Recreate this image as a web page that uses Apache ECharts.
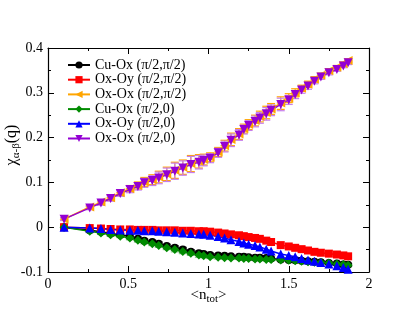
<!DOCTYPE html>
<html>
<head>
<meta charset="utf-8">
<script src="https://cdn.jsdelivr.net/npm/echarts@6/dist/echarts.min.js"></script>
<style>
  html, body { margin: 0; padding: 0; background: #fff; }
  #chart { width: 415px; height: 321px; }
</style>
</head>
<body>
<div id="chart"></div>
<script>
const nTot = [0.1, 0.26, 0.33, 0.39, 0.45, 0.51, 0.56, 0.60, 0.65, 0.69, 0.74, 0.79, 0.84, 0.89, 0.94, 0.97, 1.01, 1.06, 1.10, 1.14, 1.19, 1.22, 1.25, 1.29, 1.32, 1.36, 1.39, 1.45, 1.50, 1.54, 1.58, 1.62, 1.66, 1.70, 1.75, 1.80, 1.84, 1.87]

const cuOxPP = [0, -0.007, -0.010, -0.014, -0.017, -0.021, -0.026, -0.030, -0.033, -0.037, -0.042, -0.046, -0.050, -0.055, -0.058, -0.060, -0.062, -0.063, -0.064, -0.065, -0.066, -0.066, -0.067, -0.068, -0.068, -0.069, -0.070, -0.072, -0.073, -0.074, -0.075, -0.076, -0.077, -0.078, -0.080, -0.081, -0.083, -0.084]
const oxOyPP = [0, -0.002, -0.003, -0.004, -0.005, -0.005, -0.006, -0.006, -0.006, -0.007, -0.007, -0.007, -0.008, -0.008, -0.009, -0.009, -0.010, -0.012, -0.014, -0.016, -0.018, -0.020, -0.022, -0.024, -0.026, -0.030, -0.033, -0.040, -0.043, -0.046, -0.049, -0.052, -0.055, -0.057, -0.059, -0.061, -0.063, -0.065]
const oxOxPP = [0.018, 0.045, 0.056, 0.066, 0.077, 0.086, 0.093, 0.101, 0.106, 0.112, 0.119, 0.127, 0.134, 0.142, 0.147, 0.151, 0.156, 0.168, 0.182, 0.196, 0.208, 0.220, 0.229, 0.238, 0.247, 0.256, 0.264, 0.277, 0.288, 0.300, 0.310, 0.319, 0.330, 0.339, 0.349, 0.357, 0.365, 0.372]
const cuOxP0 = [0, -0.009, -0.013, -0.017, -0.020, -0.024, -0.029, -0.033, -0.037, -0.041, -0.046, -0.050, -0.054, -0.058, -0.062, -0.064, -0.066, -0.067, -0.068, -0.069, -0.069, -0.070, -0.070, -0.071, -0.071, -0.072, -0.072, -0.073, -0.074, -0.075, -0.076, -0.077, -0.078, -0.079, -0.080, -0.082, -0.083, -0.085]
const oxOyP0 = [0, -0.002, -0.003, -0.005, -0.006, -0.007, -0.007, -0.008, -0.008, -0.009, -0.010, -0.011, -0.013, -0.014, -0.015, -0.016, -0.018, -0.021, -0.024, -0.028, -0.032, -0.035, -0.038, -0.041, -0.044, -0.049, -0.053, -0.060, -0.063, -0.066, -0.070, -0.073, -0.076, -0.079, -0.082, -0.086, -0.090, -0.094]
const oxOxP0 = [0.018, 0.043, 0.054, 0.064, 0.075, 0.084, 0.091, 0.099, 0.104, 0.110, 0.117, 0.125, 0.132, 0.140, 0.145, 0.149, 0.154, 0.166, 0.180, 0.194, 0.206, 0.218, 0.227, 0.236, 0.244, 0.253, 0.261, 0.274, 0.284, 0.296, 0.306, 0.315, 0.326, 0.335, 0.345, 0.352, 0.360, 0.367]

// error bars (half widths)
const errOxOx = [0.003, 0.004, 0.005, 0.006, 0.006, 0.007, 0.008, 0.010, 0.011, 0.013, 0.015, 0.018, 0.016, 0.018, 0.015, 0.012, 0.010, 0.010, 0.012, 0.014, 0.012, 0.010, 0.011, 0.012, 0.012, 0.014, 0.012, 0.014, 0.010, 0.009, 0.007, 0.007, 0.006, 0.005, 0.005, 0.004, 0.004, 0.004]
const errCuOx = [0.002, 0.003, 0.003, 0.003, 0.003, 0.004, 0.004, 0.004, 0.004, 0.004, 0.004, 0.005, 0.005, 0.005, 0.005, 0.004, 0.004, 0.004, 0.003, 0.003, 0.003, 0.003, 0.003, 0.003, 0.003, 0.003, 0.003, 0.003, 0.003, 0.003, 0.003, 0.003, 0.003, 0.003, 0.003, 0.003, 0.003, 0.003]

const xTicks = [0, 0.5, 1, 1.5, 2]
const yTicks = [-0.1, 0, 0.1, 0.2, 0.3, 0.4]

const FONT = "'Liberation Serif', 'DejaVu Serif', serif"

function pts(ys) {
  return nTot.map((x, i) => [x, ys[i]])
}

function errSeries(ys, errs, color) {
  return {
    type: 'custom',
    silent: true,
    z: 1,
    data: nTot.map((x, i) => [x, ys[i] - errs[i], ys[i] + errs[i]]),
    renderItem(params, api) {
      const x = api.value(0)
      const lo = api.coord([x, api.value(1)])
      const hi = api.coord([x, api.value(2)])
      const st = { stroke: color, lineWidth: 1.2 }
      return {
        type: 'group',
        children: [
          { type: 'line', shape: { x1: lo[0], y1: lo[1], x2: hi[0], y2: hi[1] }, style: st },
          { type: 'line', shape: { x1: lo[0] - 4, y1: lo[1], x2: lo[0] + 4, y2: lo[1] }, style: st },
          { type: 'line', shape: { x1: hi[0] - 4, y1: hi[1], x2: hi[0] + 4, y2: hi[1] }, style: st },
        ],
      }
    },
  }
}

function lineSeries(name, ys, color, symbol, size, rotate) {
  return {
    name,
    type: 'line',
    data: pts(ys),
    z: 3,
    symbol,
    symbolSize: size,
    symbolRotate: rotate || 0,
    showAllSymbol: true,
    lineStyle: { color, width: 1.5 },
    itemStyle: { color, borderWidth: 0 },
    emphasis: { disabled: true },
  }
}

const labelFmt = v => String(parseFloat(v.toFixed(2)))

function axisCommon(show) {
  return {
    axisLine: { show: true, onZero: false, lineStyle: { color: '#000', width: 1.2 } },
    axisTick: { show: true, inside: true, length: 6, lineStyle: { color: '#000', width: 1 } },
    minorTick: { show: true, splitNumber: 2, length: 3, lineStyle: { color: '#000', width: 1 } },
    splitLine: { show: false },
    axisLabel: {
      show,
      color: '#000',
      fontFamily: FONT,
      fontSize: 14,
      margin: 5,
      formatter: labelFmt,
    },
  }
}

const chart = echarts.init(document.getElementById('chart'), null, { renderer: 'canvas' })

chart.setOption({
  backgroundColor: '#fff',
  animation: false,
  grid: { left: 48, right: 46, top: 48, bottom: 49, containLabel: false, outerBoundsMode: 'none' },
  legend: {
    orient: 'vertical',
    left: 62,
    top: 53,
    itemWidth: 22,
    itemHeight: 9,
    itemGap: 0.7,
    selectedMode: false,
    textStyle: { fontFamily: FONT, fontSize: 14, color: '#000', lineHeight: 14 },
    data: ['Cu-Ox (π/2,π/2)', 'Ox-Oy (π/2,π/2)', 'Ox-Ox (π/2,π/2)', 'Cu-Ox (π/2,0)', 'Ox-Oy (π/2,0)', 'Ox-Ox (π/2,0)'],
  },
  xAxis: [
    Object.assign(axisCommon(true), {
      type: 'value', min: xTicks[0], max: xTicks[xTicks.length - 1], interval: 0.5,
      name: '{m|<n}{s|tot}{m|>}',
      nameLocation: 'middle',
      nameGap: 14,
      nameMoveOverlap: false,
      nameTextStyle: {
        fontFamily: FONT, color: '#000',
        rich: {
          m: { fontFamily: FONT, fontSize: 15, color: '#000' },
          s: { fontFamily: FONT, fontSize: 11, color: '#000', padding: [8, 0, 0, 0] },
        },
      },
    }),
    Object.assign(axisCommon(false), {
      type: 'value', position: 'top', min: 0, max: 2, interval: 0.5,
    }),
  ],
  yAxis: [
    Object.assign(axisCommon(true), {
      type: 'value', min: yTicks[0], max: yTicks[yTicks.length - 1], interval: 0.1,
      name: '{m|χ}{s|α-β}{m|(q)}',
      nameLocation: 'middle',
      nameRotate: 90,
      nameGap: 26,
      nameMoveOverlap: false,
      nameTextStyle: {
        fontFamily: FONT, color: '#000',
        padding: [0, 0, 0, 30],
        rich: {
          m: { fontFamily: FONT, fontSize: 16, color: '#000' },
          s: { fontFamily: FONT, fontSize: 11, color: '#000', padding: [9, 0, 0, 0] },
        },
      },
    }),
    Object.assign(axisCommon(false), {
      type: 'value', position: 'right', min: -0.1, max: 0.4, interval: 0.1,
    }),
  ],
  series: [
    errSeries(cuOxPP, errCuOx, '#555'),
    errSeries(cuOxP0, errCuOx, '#7fc47f'),
    errSeries(oxOxPP, errOxOx, '#ffa500'),
    errSeries(oxOxP0, errOxOx, '#c77dea'),
    lineSeries('Cu-Ox (π/2,π/2)', cuOxPP, '#000000', 'circle', 8),
    lineSeries('Ox-Oy (π/2,π/2)', oxOyPP, '#ff0000', 'rect', 8),
    lineSeries('Ox-Ox (π/2,π/2)', oxOxPP, '#ffa500', 'triangle', 9, 90),
    lineSeries('Cu-Ox (π/2,0)', cuOxP0, '#008b00', 'diamond', 9),
    lineSeries('Ox-Oy (π/2,0)', oxOyP0, '#0000ff', 'triangle', 9),
    lineSeries('Ox-Ox (π/2,0)', oxOxP0, '#9400d3', 'triangle', 9, 180),
  ],
})
</script>
</body>
</html>
